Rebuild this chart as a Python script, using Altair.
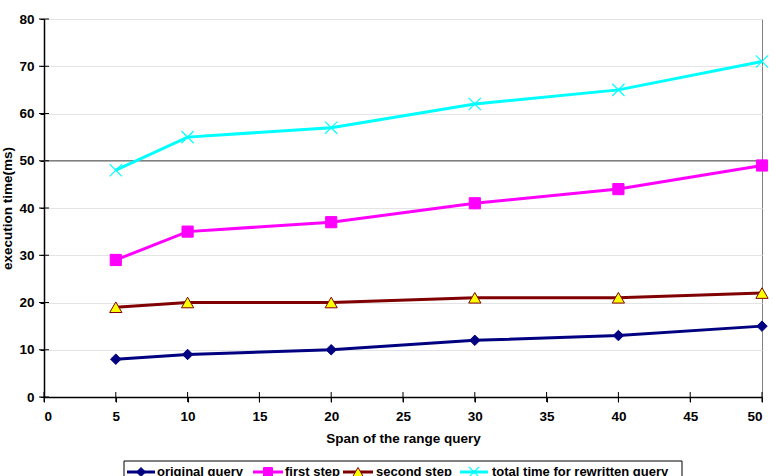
import altair as alt
import pandas as pd

# ---- data ----
x_values = [5, 10, 20, 30, 40, 50]
original_query = [8, 9, 10, 12, 13, 15]
first_step = [29, 35, 37, 41, 44, 49]
second_step = [19, 20, 20, 21, 21, 22]
total_time = [48, 55, 57, 62, 65, 71]
series_names = ["original query", "first step", "second step",
                "total time for rewritten query"]
x_ticks = [0, 5, 10, 15, 20, 25, 30, 35, 40, 45, 50]
y_ticks = [0, 10, 20, 30, 40, 50, 60, 70, 80]
highlight_y = [50]

rows = []
for name, vals in zip(series_names, [original_query, first_step, second_step, total_time]):
    for xv, yv in zip(x_values, vals):
        rows.append({"span": xv, "time": yv, "series": name})
df = pd.DataFrame(rows)

# ---- styles ----
line_colors = ["#000080", "#FF00FF", "#800000", "#00FFFF"]
FONT = "Liberation Sans"
X_PATH = "M-1,-1L1,1M-1,1L1,-1"

x_enc = alt.X("span:Q", scale=alt.Scale(domain=[0, 50], nice=False),
              axis=alt.Axis(values=x_ticks, title="Span of the range query", grid=False,
                            labelPadding=7, titlePadding=9))
y_enc = alt.Y("time:Q", scale=alt.Scale(domain=[0, 80], nice=False),
              axis=alt.Axis(values=y_ticks, title="execution time(ms)", grid=True,
                            gridColor="#e4e4e4", tickSize=4, labelPadding=6, titlePadding=4))

base = alt.Chart(df)

rule50 = alt.Chart(pd.DataFrame({"time": highlight_y})).mark_rule(
    color="#808080", strokeWidth=1.5).encode(y=alt.Y("time:Q"))

lines = base.mark_line(strokeWidth=3).encode(
    x=x_enc, y=y_enc,
    color=alt.Color("series:N", scale=alt.Scale(domain=series_names, range=line_colors),
                    legend=None),
    detail="series:N",
)

# tick marks crossing the axes (as in the reference)
xtick_marks = alt.Chart(pd.DataFrame({"span": x_ticks})).mark_tick(
    orient="vertical", size=10, thickness=1, color="black", opacity=1
).encode(x=alt.X("span:Q"), y=alt.datum(0))
ytick_marks = alt.Chart(pd.DataFrame({"time": y_ticks})).mark_tick(
    orient="horizontal", size=10, thickness=1, color="black", opacity=1
).encode(y=alt.Y("time:Q"), x=alt.datum(0))

marker_specs = [
    dict(shape="diamond", filled=True, fill="#000080", stroke="#000080", strokeWidth=1),
    dict(shape="square", filled=True, fill="#FF00FF", stroke="#FF00FF", strokeWidth=1),
    dict(shape="triangle-up", filled=True, fill="#FFFF00", stroke="#800000", strokeWidth=1),
    dict(shape=X_PATH, filled=False, stroke="#00FFFF", strokeWidth=1.2),
]
plot_sizes = [110, 125, 150, 150]
legend_sizes = [80, 80, 110, 100]

marker_layers = []
for name, spec, sz in zip(series_names, marker_specs, plot_sizes):
    marker_layers.append(
        base.transform_filter(alt.datum.series == name)
        .mark_point(opacity=1, size=sz, **spec)
        .encode(x=alt.X("span:Q"), y=alt.Y("time:Q"))
    )

# ---- legend box at the bottom (layout in pixels relative to the plot area) ----
LEG_Y = 453
legend_layout = [  # (segment start, segment end, label start)
    (83, 111, 113),
    (209, 239, 241),
    (299, 329, 332),
    (416, 444, 448),
]
legend_layers = [
    alt.Chart(pd.DataFrame({"series": ["box"]})).mark_rect(
        fill="white", stroke="black", strokeWidth=1
    ).encode(x=alt.value(80), x2=alt.value(638), y=alt.value(442), y2=alt.value(472))
]
for name, color, spec, sz, (s0, s1, tx) in zip(series_names, line_colors, marker_specs,
                                              legend_sizes, legend_layout):
    one = alt.Chart(pd.DataFrame({"series": [name]}))
    legend_layers.append(one.mark_rule(color=color, strokeWidth=3).encode(
        x=alt.value(s0), x2=alt.value(s1), y=alt.value(LEG_Y)))
    legend_layers.append(one.mark_point(opacity=1, size=sz, **spec).encode(
        x=alt.value((s0 + s1) / 2), y=alt.value(LEG_Y)))
    legend_layers.append(one.mark_text(
        align="left", baseline="middle", font=FONT, fontSize=13, fontWeight="bold",
        color="black").encode(x=alt.value(tx), y=alt.value(LEG_Y), text="series:N"))

chart = alt.layer(rule50, lines, xtick_marks, ytick_marks, *marker_layers, *legend_layers).properties(
    width=718, height=378,
    autosize=alt.AutoSizeParams(type="none"),
    padding={"left": 44, "top": 19, "right": 12, "bottom": 79},
).configure_view(
    stroke="#808080", strokeWidth=1
).configure_axis(
    domainColor="black", domainWidth=1.5, tickColor="black", tickSize=5, tickWidth=1,
    labelFont=FONT, labelFontSize=13.5, labelFontWeight="bold", labelColor="black",
    titleFont=FONT, titleFontSize=13.5, titleFontWeight="bold", titleColor="black",
)

chart.save("out.html", embed_options={"renderer": "svg", "actions": False})
